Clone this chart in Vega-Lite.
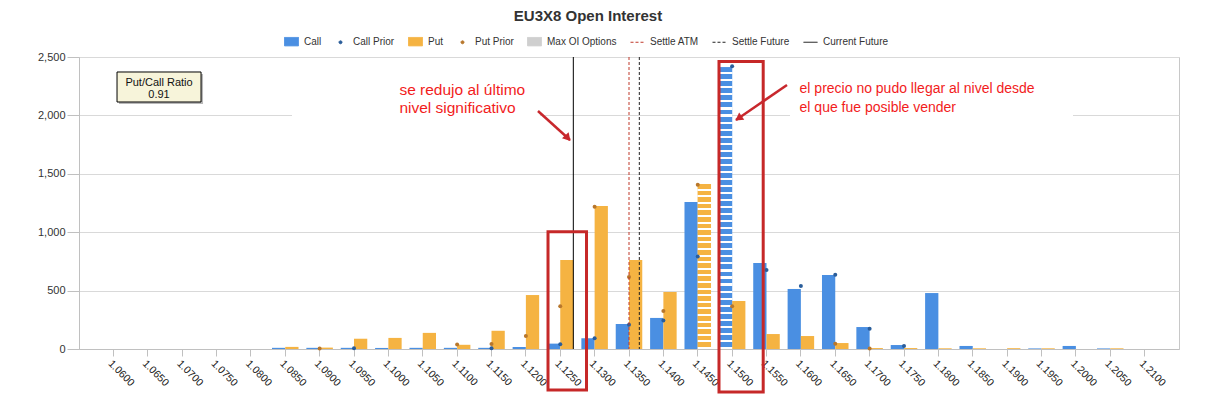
{
"$schema": "https://vega.github.io/schema/vega-lite/v6.json",
"width": 1100, "height": 292,
"autosize": {"type": "none"},
"padding": {"left": 79, "top": 57, "right": 29, "bottom": 46},
"background": "white",
"title": {"text": "EU3X8 Open Interest", "fontSize": 15, "fontWeight": "bold", "color": "#333333", "font": "Liberation Sans", "anchor": "middle", "frame": "group", "dx": -41, "offset": 10},
"config": {"view": {"stroke": "#c8c8c8"}, "font": "Liberation Sans", "numberFormat": ",d",
  "axisY": {"tickCount": 5, "tickSize": 12, "labelPadding": 2, "labelFontSize": 11, "labelFont": "Liberation Sans", "labelColor": "#333333", "grid": true, "gridColor": "#d9d9d9", "domainColor": "#c0c0c0", "tickColor": "#c0c0c0", "title": null}},
"datasets": {"oi": [
{"s":"1.0600","type":"Call","oi":0},{"s":"1.0600","type":"Put","oi":0},
{"s":"1.0650","type":"Call","oi":0},{"s":"1.0650","type":"Put","oi":0},
{"s":"1.0700","type":"Call","oi":0},{"s":"1.0700","type":"Put","oi":0},
{"s":"1.0750","type":"Call","oi":0},{"s":"1.0750","type":"Put","oi":0},
{"s":"1.0800","type":"Call","oi":0},{"s":"1.0800","type":"Put","oi":0},
{"s":"1.0850","type":"Call","oi":10},{"s":"1.0850","type":"Put","oi":18},
{"s":"1.0900","type":"Call","oi":10},{"s":"1.0900","type":"Put","oi":12,"prior":5},
{"s":"1.0950","type":"Call","oi":10,"prior":6},{"s":"1.0950","type":"Put","oi":88},
{"s":"1.1000","type":"Call","oi":9},{"s":"1.1000","type":"Put","oi":95},
{"s":"1.1050","type":"Call","oi":10},{"s":"1.1050","type":"Put","oi":138},
{"s":"1.1100","type":"Call","oi":10},{"s":"1.1100","type":"Put","oi":36,"prior":38},
{"s":"1.1150","type":"Call","oi":10,"prior":6},{"s":"1.1150","type":"Put","oi":156,"prior":42},
{"s":"1.1200","type":"Call","oi":17},{"s":"1.1200","type":"Put","oi":462,"prior":111},
{"s":"1.1250","type":"Call","oi":46,"prior":40},{"s":"1.1250","type":"Put","oi":762,"prior":365},
{"s":"1.1300","type":"Call","oi":92,"prior":93},{"s":"1.1300","type":"Put","oi":1224,"prior":1218},
{"s":"1.1350","type":"Call","oi":214,"prior":208},{"s":"1.1350","type":"Put","oi":762,"prior":616},
{"s":"1.1400","type":"Call","oi":266,"prior":245},{"s":"1.1400","type":"Put","oi":488,"prior":325},
{"s":"1.1450","type":"Call","oi":1258,"prior":793},{"s":"1.1450","type":"Put","oi":1412,"prior":1407,"max":true},
{"s":"1.1500","type":"Call","oi":2412,"prior":2421,"max":true},{"s":"1.1500","type":"Put","oi":411,"prior":365},
{"s":"1.1550","type":"Call","oi":736,"prior":676},{"s":"1.1550","type":"Put","oi":128},
{"s":"1.1600","type":"Call","oi":514,"prior":539},{"s":"1.1600","type":"Put","oi":111},
{"s":"1.1650","type":"Call","oi":633,"prior":636},{"s":"1.1650","type":"Put","oi":51,"prior":46},
{"s":"1.1700","type":"Call","oi":188,"prior":174},{"s":"1.1700","type":"Put","oi":8,"prior":5},
{"s":"1.1750","type":"Call","oi":34,"prior":26},{"s":"1.1750","type":"Put","oi":8},
{"s":"1.1800","type":"Call","oi":479},{"s":"1.1800","type":"Put","oi":6},
{"s":"1.1850","type":"Call","oi":26},{"s":"1.1850","type":"Put","oi":6},
{"s":"1.1900","type":"Call","oi":0},{"s":"1.1900","type":"Put","oi":7},
{"s":"1.1950","type":"Call","oi":5},{"s":"1.1950","type":"Put","oi":6},
{"s":"1.2000","type":"Call","oi":26},{"s":"1.2000","type":"Put","oi":0},
{"s":"1.2050","type":"Call","oi":5},{"s":"1.2050","type":"Put","oi":6},
{"s":"1.2100","type":"Call","oi":0},{"s":"1.2100","type":"Put","oi":0}
]},
"resolve": {"scale": {"x": "independent"}},
"layer": [
{
"data": {"name": "oi"},
"encoding": {
 "x": {"field": "s", "type": "ordinal", "title": null,
  "scale": {"domain": ["1.0600","1.0650","1.0700","1.0750","1.0800","1.0850","1.0900","1.0950","1.1000","1.1050","1.1100","1.1150","1.1200","1.1250","1.1300","1.1350","1.1400","1.1450","1.1500","1.1550","1.1600","1.1650","1.1700","1.1750","1.1800","1.1850","1.1900","1.1950","1.2000","1.2050","1.2100"], "paddingInner": 0.228, "paddingOuter": 0.614},
  "axis": {"labelAngle": 45, "labelAlign": "left", "labelBaseline": "top", "labelFontSize": 10.5, "labelFont": "Liberation Sans", "labelColor": "#222222", "tickSize": 7, "labelPadding": 2, "domainColor": "#c0c0c0", "tickColor": "#c0c0c0", "grid": false}},
 "y": {"field": "oi", "type": "quantitative", "title": null,
  "scale": {"domain": [0, 2500], "nice": false}}
},
"layer": [
 {"mark": {"type": "bar"},
  "encoding": {
   "xOffset": {"field": "type", "type": "nominal", "scale": {"domain": ["Call", "Put"], "paddingInner": 0, "paddingOuter": 0}},
   "color": {"field": "type", "type": "nominal",
    "scale": {"domain": ["Call", "Call Prior", "Put", "Put Prior", "Max OI Options", "Settle ATM", "Settle Future", "Current Future"],
              "range": ["#4a8fe2", "#2a5d9a", "#f5b342", "#b8772c", "#cfcfcf", "#c0392b", "#222222", "#000000"]},
    "legend": {"title": null, "orient": "none", "legendX": 205, "legendY": -23, "direction": "horizontal", "columns": 8, "padding": 0,
     "symbolSize": 196, "labelFontSize": 10, "labelFont": "Liberation Sans", "labelColor": "#333333", "columnPadding": 11, "labelOffset": 5,
     "encode": {"symbols": {"update": {
      "shape": {"signal": "indexof(['Settle ATM','Settle Future','Current Future'], datum.value) >= 0 ? 'stroke' : (indexof(['Call Prior','Put Prior'], datum.value) >= 0 ? 'circle' : 'M-1,-0.6L1,-0.6L1,0.6L-1,0.6Z')"},
      "size": {"signal": "indexof(['Call Prior','Put Prior'], datum.value) >= 0 ? 9 : 196"},
      "fill": {"signal": "datum.value === 'Call' ? '#4a8fe2' : datum.value === 'Put' ? '#f5b342' : datum.value === 'Call Prior' ? '#2a5d9a' : datum.value === 'Put Prior' ? '#b8772c' : datum.value === 'Max OI Options' ? '#cfcfcf' : 'transparent'"},
      "stroke": {"signal": "datum.value === 'Settle ATM' ? '#c0392b' : datum.value === 'Max OI Options' ? '#333333' : (datum.value === 'Settle Future' || datum.value === 'Current Future') ? '#222222' : 'transparent'"},
      "strokeDash": {"signal": "(datum.value === 'Settle ATM' || datum.value === 'Settle Future') ? [3,2] : [1,0]"},
      "strokeWidth": {"value": 1},
      "opacity": {"value": 1},
      "fillOpacity": {"value": 1},
      "strokeOpacity": {"value": 1}
     }}}}
   }
  }},
 {"transform": [{"filter": "datum.max && datum.type === 'Call'"}],
  "mark": {"type": "bar", "fill": {"gradient": "linear", "x1": 0, "y1": 0, "x2": 0, "y2": 1, "stops": [
{"offset":0,"color":"#4a8fe2"},{"offset":0.0175,"color":"#4a8fe2"},{"offset":0.0175,"color":"#ffffff"},{"offset":0.025,"color":"#ffffff"},
{"offset":0.025,"color":"#4a8fe2"},{"offset":0.0425,"color":"#4a8fe2"},{"offset":0.0425,"color":"#ffffff"},{"offset":0.05,"color":"#ffffff"},
{"offset":0.05,"color":"#4a8fe2"},{"offset":0.0675,"color":"#4a8fe2"},{"offset":0.0675,"color":"#ffffff"},{"offset":0.075,"color":"#ffffff"},
{"offset":0.075,"color":"#4a8fe2"},{"offset":0.0925,"color":"#4a8fe2"},{"offset":0.0925,"color":"#ffffff"},{"offset":0.1,"color":"#ffffff"},
{"offset":0.1,"color":"#4a8fe2"},{"offset":0.1175,"color":"#4a8fe2"},{"offset":0.1175,"color":"#ffffff"},{"offset":0.125,"color":"#ffffff"},
{"offset":0.125,"color":"#4a8fe2"},{"offset":0.1425,"color":"#4a8fe2"},{"offset":0.1425,"color":"#ffffff"},{"offset":0.15,"color":"#ffffff"},
{"offset":0.15,"color":"#4a8fe2"},{"offset":0.1675,"color":"#4a8fe2"},{"offset":0.1675,"color":"#ffffff"},{"offset":0.175,"color":"#ffffff"},
{"offset":0.175,"color":"#4a8fe2"},{"offset":0.1925,"color":"#4a8fe2"},{"offset":0.1925,"color":"#ffffff"},{"offset":0.2,"color":"#ffffff"},
{"offset":0.2,"color":"#4a8fe2"},{"offset":0.2175,"color":"#4a8fe2"},{"offset":0.2175,"color":"#ffffff"},{"offset":0.225,"color":"#ffffff"},
{"offset":0.225,"color":"#4a8fe2"},{"offset":0.2425,"color":"#4a8fe2"},{"offset":0.2425,"color":"#ffffff"},{"offset":0.25,"color":"#ffffff"},
{"offset":0.25,"color":"#4a8fe2"},{"offset":0.2675,"color":"#4a8fe2"},{"offset":0.2675,"color":"#ffffff"},{"offset":0.275,"color":"#ffffff"},
{"offset":0.275,"color":"#4a8fe2"},{"offset":0.2925,"color":"#4a8fe2"},{"offset":0.2925,"color":"#ffffff"},{"offset":0.3,"color":"#ffffff"},
{"offset":0.3,"color":"#4a8fe2"},{"offset":0.3175,"color":"#4a8fe2"},{"offset":0.3175,"color":"#ffffff"},{"offset":0.325,"color":"#ffffff"},
{"offset":0.325,"color":"#4a8fe2"},{"offset":0.3425,"color":"#4a8fe2"},{"offset":0.3425,"color":"#ffffff"},{"offset":0.35,"color":"#ffffff"},
{"offset":0.35,"color":"#4a8fe2"},{"offset":0.3675,"color":"#4a8fe2"},{"offset":0.3675,"color":"#ffffff"},{"offset":0.375,"color":"#ffffff"},
{"offset":0.375,"color":"#4a8fe2"},{"offset":0.3925,"color":"#4a8fe2"},{"offset":0.3925,"color":"#ffffff"},{"offset":0.4,"color":"#ffffff"},
{"offset":0.4,"color":"#4a8fe2"},{"offset":0.4175,"color":"#4a8fe2"},{"offset":0.4175,"color":"#ffffff"},{"offset":0.425,"color":"#ffffff"},
{"offset":0.425,"color":"#4a8fe2"},{"offset":0.4425,"color":"#4a8fe2"},{"offset":0.4425,"color":"#ffffff"},{"offset":0.45,"color":"#ffffff"},
{"offset":0.45,"color":"#4a8fe2"},{"offset":0.4675,"color":"#4a8fe2"},{"offset":0.4675,"color":"#ffffff"},{"offset":0.475,"color":"#ffffff"},
{"offset":0.475,"color":"#4a8fe2"},{"offset":0.4925,"color":"#4a8fe2"},{"offset":0.4925,"color":"#ffffff"},{"offset":0.5,"color":"#ffffff"},
{"offset":0.5,"color":"#4a8fe2"},{"offset":0.5175,"color":"#4a8fe2"},{"offset":0.5175,"color":"#ffffff"},{"offset":0.525,"color":"#ffffff"},
{"offset":0.525,"color":"#4a8fe2"},{"offset":0.5425,"color":"#4a8fe2"},{"offset":0.5425,"color":"#ffffff"},{"offset":0.55,"color":"#ffffff"},
{"offset":0.55,"color":"#4a8fe2"},{"offset":0.5675,"color":"#4a8fe2"},{"offset":0.5675,"color":"#ffffff"},{"offset":0.575,"color":"#ffffff"},
{"offset":0.575,"color":"#4a8fe2"},{"offset":0.5925,"color":"#4a8fe2"},{"offset":0.5925,"color":"#ffffff"},{"offset":0.6,"color":"#ffffff"},
{"offset":0.6,"color":"#4a8fe2"},{"offset":0.6175,"color":"#4a8fe2"},{"offset":0.6175,"color":"#ffffff"},{"offset":0.625,"color":"#ffffff"},
{"offset":0.625,"color":"#4a8fe2"},{"offset":0.6425,"color":"#4a8fe2"},{"offset":0.6425,"color":"#ffffff"},{"offset":0.65,"color":"#ffffff"},
{"offset":0.65,"color":"#4a8fe2"},{"offset":0.6675,"color":"#4a8fe2"},{"offset":0.6675,"color":"#ffffff"},{"offset":0.675,"color":"#ffffff"},
{"offset":0.675,"color":"#4a8fe2"},{"offset":0.6925,"color":"#4a8fe2"},{"offset":0.6925,"color":"#ffffff"},{"offset":0.7,"color":"#ffffff"},
{"offset":0.7,"color":"#4a8fe2"},{"offset":0.7175,"color":"#4a8fe2"},{"offset":0.7175,"color":"#ffffff"},{"offset":0.725,"color":"#ffffff"},
{"offset":0.725,"color":"#4a8fe2"},{"offset":0.7425,"color":"#4a8fe2"},{"offset":0.7425,"color":"#ffffff"},{"offset":0.75,"color":"#ffffff"},
{"offset":0.75,"color":"#4a8fe2"},{"offset":0.7675,"color":"#4a8fe2"},{"offset":0.7675,"color":"#ffffff"},{"offset":0.775,"color":"#ffffff"},
{"offset":0.775,"color":"#4a8fe2"},{"offset":0.7925,"color":"#4a8fe2"},{"offset":0.7925,"color":"#ffffff"},{"offset":0.8,"color":"#ffffff"},
{"offset":0.8,"color":"#4a8fe2"},{"offset":0.8175,"color":"#4a8fe2"},{"offset":0.8175,"color":"#ffffff"},{"offset":0.825,"color":"#ffffff"},
{"offset":0.825,"color":"#4a8fe2"},{"offset":0.8425,"color":"#4a8fe2"},{"offset":0.8425,"color":"#ffffff"},{"offset":0.85,"color":"#ffffff"},
{"offset":0.85,"color":"#4a8fe2"},{"offset":0.8675,"color":"#4a8fe2"},{"offset":0.8675,"color":"#ffffff"},{"offset":0.875,"color":"#ffffff"},
{"offset":0.875,"color":"#4a8fe2"},{"offset":0.8925,"color":"#4a8fe2"},{"offset":0.8925,"color":"#ffffff"},{"offset":0.9,"color":"#ffffff"},
{"offset":0.9,"color":"#4a8fe2"},{"offset":0.9175,"color":"#4a8fe2"},{"offset":0.9175,"color":"#ffffff"},{"offset":0.925,"color":"#ffffff"},
{"offset":0.925,"color":"#4a8fe2"},{"offset":0.9425,"color":"#4a8fe2"},{"offset":0.9425,"color":"#ffffff"},{"offset":0.95,"color":"#ffffff"},
{"offset":0.95,"color":"#4a8fe2"},{"offset":0.9675,"color":"#4a8fe2"},{"offset":0.9675,"color":"#ffffff"},{"offset":0.975,"color":"#ffffff"},
{"offset":0.975,"color":"#4a8fe2"},{"offset":0.9925,"color":"#4a8fe2"},{"offset":0.9925,"color":"#ffffff"},{"offset":1,"color":"#ffffff"}
  ]}},
  "encoding": {"xOffset": {"field": "type", "type": "nominal", "scale": {"domain": ["Call", "Put"], "paddingInner": 0, "paddingOuter": 0}}}},
 {"transform": [{"filter": "datum.max && datum.type === 'Put'"}],
  "mark": {"type": "bar", "fill": {"gradient": "linear", "x1": 0, "y1": 0, "x2": 0, "y2": 1, "stops": [
{"offset":0,"color":"#f5b342"},{"offset":0.028,"color":"#f5b342"},{"offset":0.028,"color":"#ffffff"},{"offset":0.04,"color":"#ffffff"},
{"offset":0.04,"color":"#f5b342"},{"offset":0.068,"color":"#f5b342"},{"offset":0.068,"color":"#ffffff"},{"offset":0.08,"color":"#ffffff"},
{"offset":0.08,"color":"#f5b342"},{"offset":0.108,"color":"#f5b342"},{"offset":0.108,"color":"#ffffff"},{"offset":0.12,"color":"#ffffff"},
{"offset":0.12,"color":"#f5b342"},{"offset":0.148,"color":"#f5b342"},{"offset":0.148,"color":"#ffffff"},{"offset":0.16,"color":"#ffffff"},
{"offset":0.16,"color":"#f5b342"},{"offset":0.188,"color":"#f5b342"},{"offset":0.188,"color":"#ffffff"},{"offset":0.2,"color":"#ffffff"},
{"offset":0.2,"color":"#f5b342"},{"offset":0.228,"color":"#f5b342"},{"offset":0.228,"color":"#ffffff"},{"offset":0.24,"color":"#ffffff"},
{"offset":0.24,"color":"#f5b342"},{"offset":0.268,"color":"#f5b342"},{"offset":0.268,"color":"#ffffff"},{"offset":0.28,"color":"#ffffff"},
{"offset":0.28,"color":"#f5b342"},{"offset":0.308,"color":"#f5b342"},{"offset":0.308,"color":"#ffffff"},{"offset":0.32,"color":"#ffffff"},
{"offset":0.32,"color":"#f5b342"},{"offset":0.348,"color":"#f5b342"},{"offset":0.348,"color":"#ffffff"},{"offset":0.36,"color":"#ffffff"},
{"offset":0.36,"color":"#f5b342"},{"offset":0.388,"color":"#f5b342"},{"offset":0.388,"color":"#ffffff"},{"offset":0.4,"color":"#ffffff"},
{"offset":0.4,"color":"#f5b342"},{"offset":0.428,"color":"#f5b342"},{"offset":0.428,"color":"#ffffff"},{"offset":0.44,"color":"#ffffff"},
{"offset":0.44,"color":"#f5b342"},{"offset":0.468,"color":"#f5b342"},{"offset":0.468,"color":"#ffffff"},{"offset":0.48,"color":"#ffffff"},
{"offset":0.48,"color":"#f5b342"},{"offset":0.508,"color":"#f5b342"},{"offset":0.508,"color":"#ffffff"},{"offset":0.52,"color":"#ffffff"},
{"offset":0.52,"color":"#f5b342"},{"offset":0.548,"color":"#f5b342"},{"offset":0.548,"color":"#ffffff"},{"offset":0.56,"color":"#ffffff"},
{"offset":0.56,"color":"#f5b342"},{"offset":0.588,"color":"#f5b342"},{"offset":0.588,"color":"#ffffff"},{"offset":0.6,"color":"#ffffff"},
{"offset":0.6,"color":"#f5b342"},{"offset":0.628,"color":"#f5b342"},{"offset":0.628,"color":"#ffffff"},{"offset":0.64,"color":"#ffffff"},
{"offset":0.64,"color":"#f5b342"},{"offset":0.668,"color":"#f5b342"},{"offset":0.668,"color":"#ffffff"},{"offset":0.68,"color":"#ffffff"},
{"offset":0.68,"color":"#f5b342"},{"offset":0.708,"color":"#f5b342"},{"offset":0.708,"color":"#ffffff"},{"offset":0.72,"color":"#ffffff"},
{"offset":0.72,"color":"#f5b342"},{"offset":0.748,"color":"#f5b342"},{"offset":0.748,"color":"#ffffff"},{"offset":0.76,"color":"#ffffff"},
{"offset":0.76,"color":"#f5b342"},{"offset":0.788,"color":"#f5b342"},{"offset":0.788,"color":"#ffffff"},{"offset":0.8,"color":"#ffffff"},
{"offset":0.8,"color":"#f5b342"},{"offset":0.828,"color":"#f5b342"},{"offset":0.828,"color":"#ffffff"},{"offset":0.84,"color":"#ffffff"},
{"offset":0.84,"color":"#f5b342"},{"offset":0.868,"color":"#f5b342"},{"offset":0.868,"color":"#ffffff"},{"offset":0.88,"color":"#ffffff"},
{"offset":0.88,"color":"#f5b342"},{"offset":0.908,"color":"#f5b342"},{"offset":0.908,"color":"#ffffff"},{"offset":0.92,"color":"#ffffff"},
{"offset":0.92,"color":"#f5b342"},{"offset":0.948,"color":"#f5b342"},{"offset":0.948,"color":"#ffffff"},{"offset":0.96,"color":"#ffffff"},
{"offset":0.96,"color":"#f5b342"},{"offset":0.988,"color":"#f5b342"},{"offset":0.988,"color":"#ffffff"},{"offset":1,"color":"#ffffff"}
  ]}},
  "encoding": {"xOffset": {"field": "type", "type": "nominal", "scale": {"domain": ["Call", "Put"], "paddingInner": 0, "paddingOuter": 0}}}},
 {"transform": [{"filter": "datum.type === 'Call'"}],
  "mark": {"type": "point", "filled": true, "size": 16, "color": "#2a5d9a", "opacity": 1},
  "encoding": {"y": {"field": "prior", "type": "quantitative", "title": null, "scale": {"domain": [0, 2500], "nice": false}}}},
 {"transform": [{"filter": "datum.type === 'Put'"}],
  "mark": {"type": "point", "filled": true, "size": 16, "color": "#b8772c", "opacity": 1},
  "encoding": {"y": {"field": "prior", "type": "quantitative", "title": null, "scale": {"domain": [0, 2500], "nice": false}}}}
]
},
{
"layer": [
 {"data": {"values": [{"x1": 1.08598, "x2": 1.12205, "y1": 2457, "y2": 1918}, {"x1": 1.15842, "x2": 1.19958, "y1": 2457, "y2": 1755}]},
  "mark": {"type": "rect", "fill": "#ffffff", "stroke": null},
  "encoding": {
   "x": {"field": "x1", "type": "quantitative", "scale": {"domain": [1.055, 1.215], "nice": false, "zero": false}, "axis": null},
   "x2": {"field": "x2"},
   "y": {"field": "y1", "type": "quantitative", "title": null, "scale": {"domain": [0, 2500], "nice": false}},
   "y2": {"field": "y2"}}},
 {"data": {"values": [{"name": "Settle ATM", "strike": 1.135}, {"name": "Settle Future", "strike": 1.1365}, {"name": "Current Future", "strike": 1.1269}]},
  "mark": {"type": "rule", "strokeWidth": 1},
  "encoding": {
   "x": {"field": "strike", "type": "quantitative", "scale": {"domain": [1.055, 1.215], "nice": false, "zero": false}, "axis": null},
   "color": {"field": "name", "type": "nominal", "legend": null},
   "strokeDash": {"field": "name", "type": "nominal", "scale": {"domain": ["Settle ATM", "Settle Future", "Current Future"], "range": [[3, 2], [3, 2], [1, 0]]}, "legend": null}}},
 {"data": {"values": [{"x1": 1.06082, "x2": 1.07304, "y1": 2354, "y2": 2097}]},
  "mark": {"type": "rect", "fill": "#888888", "opacity": 0.6},
  "encoding": {
   "x": {"field": "x1", "type": "quantitative", "scale": {"domain": [1.055, 1.215], "nice": false, "zero": false}, "axis": null},
   "x2": {"field": "x2"},
   "y": {"field": "y1", "type": "quantitative", "title": null, "scale": {"domain": [0, 2500], "nice": false}},
   "y2": {"field": "y2"}}},
 {"data": {"values": [{"x1": 1.06053, "x2": 1.07275, "y1": 2371.6, "y2": 2114.7}]},
  "mark": {"type": "rect", "fill": "#f7f4da", "stroke": "#000000", "strokeWidth": 1},
  "encoding": {
   "x": {"field": "x1", "type": "quantitative", "scale": {"domain": [1.055, 1.215], "nice": false, "zero": false}, "axis": null},
   "x2": {"field": "x2"},
   "y": {"field": "y1", "type": "quantitative", "title": null, "scale": {"domain": [0, 2500], "nice": false}},
   "y2": {"field": "y2"}}},
 {"data": {"values": [{"x": 1.06664, "y": 2281, "t": "Put/Call Ratio"}, {"x": 1.06664, "y": 2175, "t": "0.91"}]},
  "mark": {"type": "text", "font": "Liberation Sans", "fontSize": 11, "color": "#111111", "align": "center", "baseline": "middle"},
  "encoding": {
   "x": {"field": "x", "type": "quantitative", "scale": {"domain": [1.055, 1.215], "nice": false, "zero": false}, "axis": null},
   "y": {"field": "y", "type": "quantitative", "title": null, "scale": {"domain": [0, 2500], "nice": false}},
   "text": {"field": "t"}}},
 {"data": {"values": [{"x1": 1.12322, "x2": 1.12882, "y1": 1004, "y2": -351}, {"x1": 1.14809, "x2": 1.15452, "y1": 2462, "y2": -368}]},
  "mark": {"type": "rect", "filled": false, "stroke": "#c62828", "strokeWidth": 3},
  "encoding": {
   "x": {"field": "x1", "type": "quantitative", "scale": {"domain": [1.055, 1.215], "nice": false, "zero": false}, "axis": null},
   "x2": {"field": "x2"},
   "y": {"field": "y1", "type": "quantitative", "title": null, "scale": {"domain": [0, 2500], "nice": false}},
   "y2": {"field": "y2"}}},
 {"data": {"values": [{"x1": 1.12176, "y1": 2038, "x2": 1.12642, "y2": 1789}, {"x1": 1.15798, "y1": 2260, "x2": 1.15056, "y2": 1961}]},
  "mark": {"type": "rule", "stroke": "#c8282d", "strokeWidth": 2.5},
  "encoding": {
   "x": {"field": "x1", "type": "quantitative", "scale": {"domain": [1.055, 1.215], "nice": false, "zero": false}, "axis": null},
   "x2": {"field": "x2"},
   "y": {"field": "y1", "type": "quantitative", "title": null, "scale": {"domain": [0, 2500], "nice": false}},
   "y2": {"field": "y2"}}},
 {"data": {"values": [{"x": 1.12611, "y": 1806}]},
  "mark": {"type": "point", "shape": "triangle-up", "filled": true, "size": 80, "color": "#c8282d", "opacity": 1, "angle": 138},
  "encoding": {
   "x": {"field": "x", "type": "quantitative", "scale": {"domain": [1.055, 1.215], "nice": false, "zero": false}, "axis": null},
   "y": {"field": "y", "type": "quantitative", "title": null, "scale": {"domain": [0, 2500], "nice": false}}}},
 {"data": {"values": [{"x": 1.15093, "y": 1975}]},
  "mark": {"type": "point", "shape": "triangle-up", "filled": true, "size": 80, "color": "#c8282d", "opacity": 1, "angle": 235},
  "encoding": {
   "x": {"field": "x", "type": "quantitative", "scale": {"domain": [1.055, 1.215], "nice": false, "zero": false}, "axis": null},
   "y": {"field": "y", "type": "quantitative", "title": null, "scale": {"domain": [0, 2500], "nice": false}}}},
 {"data": {"values": [{"x": 1.1016, "y": 2177, "t": "se redujo al último"}, {"x": 1.1016, "y": 2018, "t": "nivel significativo"}]},
  "mark": {"type": "text", "font": "Liberation Sans", "fontSize": 15.5, "color": "#f21c1c", "align": "left", "baseline": "alphabetic"},
  "encoding": {
   "x": {"field": "x", "type": "quantitative", "scale": {"domain": [1.055, 1.215], "nice": false, "zero": false}, "axis": null},
   "y": {"field": "y", "type": "quantitative", "title": null, "scale": {"domain": [0, 2500], "nice": false}},
   "text": {"field": "t"}}},
 {"data": {"values": [{"x": 1.15981, "y": 2196, "t": "el precio no pudo llegar al nivel desde"}, {"x": 1.15981, "y": 2025, "t": "el que fue posible vender"}]},
  "mark": {"type": "text", "font": "Liberation Sans", "fontSize": 14, "color": "#f21c1c", "align": "left", "baseline": "alphabetic"},
  "encoding": {
   "x": {"field": "x", "type": "quantitative", "scale": {"domain": [1.055, 1.215], "nice": false, "zero": false}, "axis": null},
   "y": {"field": "y", "type": "quantitative", "title": null, "scale": {"domain": [0, 2500], "nice": false}},
   "text": {"field": "t"}}}
]
}
]
}
